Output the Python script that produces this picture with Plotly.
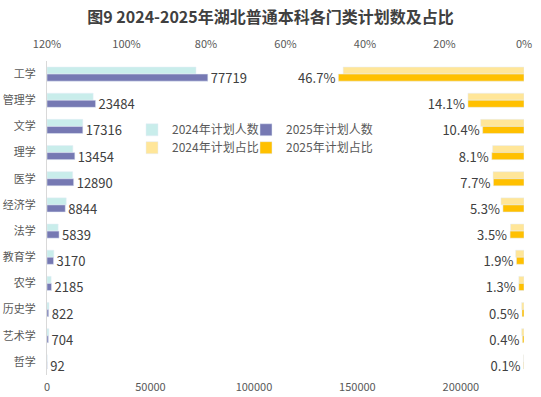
import plotly.graph_objects as go

categories = ["工学", "管理学", "文学", "理学", "医学", "经济学", "法学", "教育学", "农学", "历史学", "艺术学", "哲学"]
count_2024 = [72000, 22300, 17300, 12500, 12400, 9300, 5400, 3300, 2000, 950, 900, 100]
count_2025 = [77719, 23484, 17316, 13454, 12890, 8844, 5839, 3170, 2185, 822, 704, 92]
pct_2024 = [45.5, 14.1, 10.9, 7.9, 7.8, 5.8, 3.4, 2.1, 1.3, 0.6, 0.6, 0.1]
pct_2025 = [46.7, 14.1, 10.4, 8.1, 7.7, 5.3, 3.5, 1.9, 1.3, 0.5, 0.4, 0.1]
count_ticks = [0, 50000, 100000, 150000, 200000]
pct_ticks = [0, 20, 40, 60, 80, 100, 120]

FONT = "Noto Sans CJK SC"
TXT = "#404040"
TICK = "#595959"

fig = go.Figure()
fig.add_trace(go.Bar(y=categories, x=count_2024, orientation="h", name="2024年计划人数",
                     marker=dict(color="#C9EDEB"), xaxis="x", yaxis="y", legend="legend"))
fig.add_trace(go.Bar(y=categories, x=count_2025, orientation="h", name="2025年计划人数",
                     marker=dict(color="#7679B3"), xaxis="x", yaxis="y", legend="legend2",
                     text=[str(v) for v in count_2025], textposition="outside", cliponaxis=False,
                     constraintext="none", textfont=dict(size=13, color=TXT, family=FONT)))
fig.add_trace(go.Bar(y=categories, x=[p / 100 for p in pct_2024], orientation="h", name="2024年计划占比",
                     marker=dict(color="#FFE699"), xaxis="x2", yaxis="y", legend="legend3"))
fig.add_trace(go.Bar(y=categories, x=[p / 100 for p in pct_2025], orientation="h", name="2025年计划占比",
                     marker=dict(color="#FFC000"), xaxis="x2", yaxis="y", legend="legend4",
                     text=[f"{p:.1f}%" for p in pct_2025], textposition="outside", cliponaxis=False,
                     constraintext="none", textfont=dict(size=13, color=TXT, family=FONT)))

def leg(x, y):
    return dict(x=x, y=y, xanchor="left", yanchor="middle", orientation="h",
                font=dict(size=12, color=TICK, family=FONT), bgcolor="rgba(0,0,0,0)", itemwidth=30)

fig.update_layout(
    width=541, height=397,
    margin=dict(l=47, r=17, t=61, b=22),
    paper_bgcolor="white", plot_bgcolor="white",
    font=dict(family=FONT, size=11, color=TICK),
    title=dict(text="<b>图9 2024-2025年湖北普通本科各门类计划数及占比</b>", x=0.5, xanchor="center",
               y=0.955, yanchor="middle", font=dict(size=16, color=TXT, family=FONT)),
    barmode="group", bargap=0.46, bargroupgap=0,
    showlegend=True,
    xaxis=dict(range=[0, 230500], tickvals=count_ticks, ticktext=[str(t) for t in count_ticks],
               showgrid=False, zeroline=False, showline=False, ticks="", automargin=False,
               ticklabelstandoff=4, tickfont=dict(size=11, color=TICK)),
    xaxis2=dict(range=[1.2, 0], overlaying="x", side="top", tickvals=[t / 100 for t in pct_ticks],
                ticktext=[f"{t}%" for t in pct_ticks], showgrid=False, zeroline=False, showline=False,
                ticks="", automargin=False, ticklabelstandoff=10, tickfont=dict(size=11, color=TICK)),
    yaxis=dict(categoryorder="array", categoryarray=categories, autorange="reversed",
               showgrid=False, zeroline=False, showline=True, linecolor="#D9D9D9", linewidth=1,
               ticks="", automargin=False, ticklabelstandoff=8, tickfont=dict(size=11, color=TICK)),
    legend=leg(0.1782, 0.781),
    legend2=leg(0.4172, 0.781),
    legend3=leg(0.1782, 0.724),
    legend4=leg(0.4172, 0.724),
)

fig.write_html("out.html", post_script="document.body.style.margin='0';",
               config={"displayModeBar": False})
